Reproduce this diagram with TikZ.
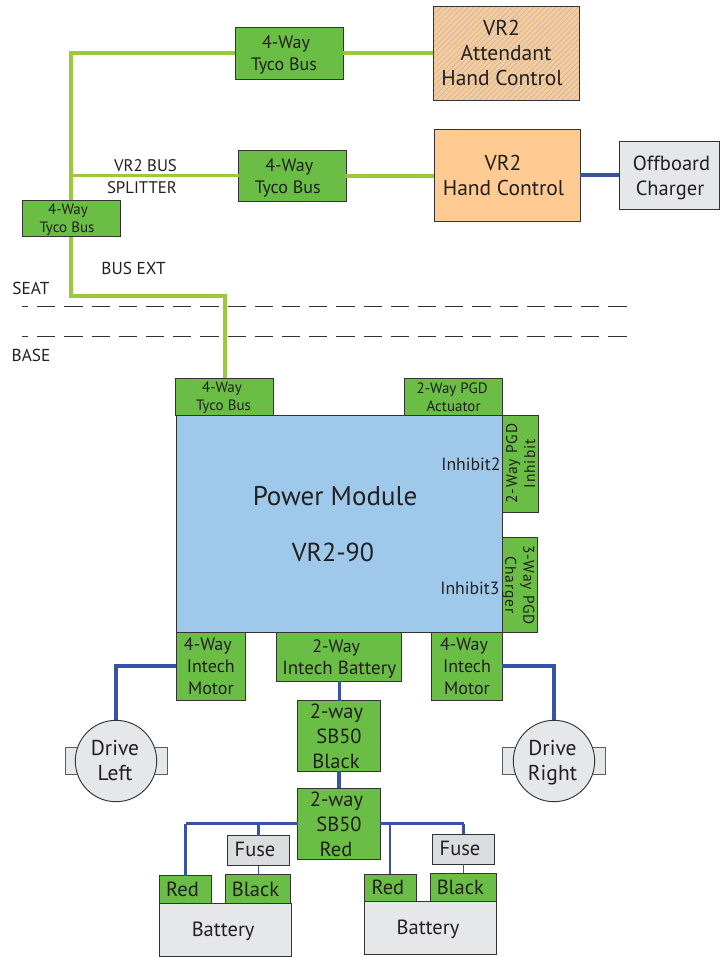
\documentclass[tikz,border=0pt]{standalone}
\usepackage{fontspec}
\setmainfont{PT Sans}
\usetikzlibrary{patterns.meta}
\definecolor{boxgreen}{HTML}{6ABD45}
\definecolor{wiregreen}{HTML}{9ACA3C}
\definecolor{wireblue}{HTML}{3953A4}
\definecolor{pmblue}{HTML}{9FC9EB}
\definecolor{peach}{HTML}{FFCB92}
\definecolor{lightgray}{HTML}{E6E7E8}
\definecolor{fusegray}{HTML}{DCDDDE}
\definecolor{ink}{HTML}{231F20}
\definecolor{edge}{HTML}{333333}
\definecolor{hatch}{HTML}{B4BCC4}
\newlength{\pxu}\setlength{\pxu}{0.75pt}
\newcommand{\fz}[2]{\fontsize{#1\pxu}{#2\pxu}\selectfont}
\newcommand{\rs}[1]{\hspace*{#1\pxu}}
\newcommand{\spaced}[1]{{\addfontfeature{LetterSpace=6}#1}}
\newcommand{\bx}[8][]{\node[box,#7,#1,minimum width={(#5-#3)*0.75pt},minimum height={(#6-#4)*0.75pt}] (#2) at ({(#3+#5)/2},{(#4+#6)/2}) {#8};}
\tikzset{
  box/.style={draw=edge,line width=0.7pt,inner sep=0pt,outer sep=0pt,align=center,text=ink,text depth=-2*\pxu},
  green/.style={fill=boxgreen},
  gbig/.style={green,font=\fz{18}{22}},
  gsmall/.style={green,font=\fz{15}{18}},
  gsb/.style={green,font=\fz{20.5}{25},text depth=0pt},
  gbat/.style={green,font=\fz{20.5}{25},text depth=0pt},
  grey/.style={fill=lightgray,font=\fz{20.5}{25}},
  hand/.style={fill=peach,font=\fz{21.5}{25}},
  lbl/.style={inner sep=0pt,outer sep=0pt,text=ink,align=center},
  bus/.style={draw=wiregreen,line width=3pt},
  busthin/.style={draw=wiregreen,line width=2.4pt},
  pow/.style={draw=wireblue,line width=3pt},
  powmid/.style={draw=wireblue,line width=2.4pt},
  powthin/.style={draw=wireblue,line width=1.6pt},
  powfine/.style={draw=wireblue,line width=0.9pt},
  zone/.style={draw=edge,line width=0.7pt,dash pattern=on 13.6pt off 6.8pt,dash phase=9pt},
}
\begin{document}
\begin{tikzpicture}[x=0.75pt,y=-0.75pt]
\useasboundingbox (0,0) rectangle (719,957);
% zone lines
\coordinate (seatL) at (22,306); \coordinate (seatR) at (627,306);
\coordinate (baseL) at (22,336.5); \coordinate (baseR) at (627,336.5);
\draw[zone] (seatL) -- (seatR);
\draw[zone] (baseL) -- (baseR);
% boxes
\bx{tA}{235}{27}{343}{79}{gbig}{4-Way\rs{6}\\Tyco Bus\rs{10}}
\bx{tB}{238.5}{150.5}{346}{201}{gbig,text depth=0pt}{4-Way\rs{6}\\Tyco Bus\rs{9}}
\bx{tC}{22}{200}{120}{236.5}{gsmall}{4-Way\rs{6}\\Tyco Bus\rs{8}}
\bx{attend}{433}{6}{579}{100}{hand,fill=none,text depth=0pt,preaction={fill=peach},preaction={pattern={Lines[angle=45,distance=2.9pt,line width=0.6pt]},pattern color=hatch}}{VR2\rs{9}\\Attendant\rs{2}\\Hand Control\rs{8}}
\bx{hand}{434}{129.5}{580}{221}{hand}{VR2\rs{8}\\Hand Control\rs{7}}
\bx{charger}{619}{141}{719}{209.5}{grey,text depth=0pt}{\hspace*{5\pxu}Offboard\\\hspace*{2\pxu}Charger}
\bx{pm}{176}{415}{502}{632.5}{fill=pmblue,text depth=0pt}{\fz{27}{32}Power Module\rs{8}\\[36\pxu]\fz{26}{32}VR2-90\rs{12}}
\bx{tD}{175.5}{378}{273.5}{415}{gsmall}{4-Way\rs{5}\\Tyco Bus\rs{2}}
\bx{act}{404.7}{378.5}{502.5}{415}{gsmall}{2-Way PGD\rs{3}\\Actuator}
\node[box,green,font=\fz{15.5}{18},text depth=0pt,rotate=90,minimum width=97.5*0.75pt,minimum height=36*0.75pt] (inh) at (520.5,463.75) {\spaced{2-Way PGD}\\\spaced{Inhibit}};
\node[box,green,font=\fz{15.5}{18},text depth=0pt,rotate=-90,minimum width=95*0.75pt,minimum height=35*0.75pt] (chg) at (520,585) {\spaced{3-Way PGD}\\\spaced{Charger}};
\bx{mL}{176}{632.5}{245.7}{700}{gbig}{4-Way\rs{6}\\Intech\rs{2}\\Motor}
\bx{ib}{276.7}{632.5}{401.7}{681}{gbig}{2-Way\rs{6}\\{\fz{19}{22}Intech Battery}}
\bx{mR}{431.7}{632.5}{502.3}{700}{gbig}{4-Way\rs{6}\\Intech\rs{2}\\Motor}
\bx{sbK}{297.7}{700.5}{380.3}{771}{gsb}{2-way\rs{5}\\SB50\rs{7}\\Black\rs{6}}
\bx{sbR}{297.7}{788}{380.3}{859.5}{gsb}{2-way\rs{5}\\SB50\rs{7}\\Red\rs{6}}
% drives
\bx{tabL}{65}{747.3}{167}{774.7}{fill=lightgray,draw=edge!80!white}{}
\bx{tabR}{502.7}{747.3}{605.3}{774.7}{fill=lightgray,draw=edge!80!white}{}
\node[box,circle,fill=lightgray,font=\fz{21.5}{25},text depth=2*\pxu,minimum size=81.4*0.75pt] (dL) at (116,761) {Drive\rs{2}\\Left\rs{2}};
\node[box,circle,fill=lightgray,font=\fz{21.5}{25},text depth=2*\pxu,minimum size=81.4*0.75pt] (dR) at (554,761) {Drive\rs{3}\\Right\rs{3}};
% batteries
\bx{fA}{227.3}{835.7}{289.7}{865.7}{grey,fill=fusegray,text depth=2*\pxu}{Fuse\rs{7}}
\bx{fB}{432.3}{834.3}{494.7}{864}{grey,fill=fusegray,text depth=2*\pxu}{Fuse\rs{7}}
\bx{rA}{159.3}{875.7}{211.7}{903}{gbat}{Red\rs{6}}
\bx{kA}{225.3}{874.5}{290.7}{903}{gbat}{Black\rs{5}}
\bx{batA}{159.3}{903}{291}{956}{grey}{Battery\rs{4}}
\bx{rB}{364}{874}{416.7}{901}{gbat}{Red\rs{5}}
\bx{kB}{430.7}{873}{496}{901}{gbat}{Black\rs{6}}
\bx{batB}{364}{901}{496}{954}{grey}{Battery\rs{4}}
% free labels
\node[lbl,align=right,font=\fz{16.8}{22}] (split) at (142,177) {VR2 BUS\\SPLITTER};
\node[lbl,font=\fz{17.3}{18}] (busext) at (133.5,268) {BUS EXT};
\node[lbl,font=\fz{17.3}{18}] (seat) at (31,288) {SEAT};
\node[lbl,font=\fz{17.3}{18}] (base) at (31,355) {BASE};
\node[lbl,font=\fz{17.7}{20}] (inhtwo) at (471,464) {Inhibit2};
\node[lbl,font=\fz{17.7}{20}] (inhthree) at (470,588) {Inhibit3};
% bus wires
\coordinate (busdrop) at (150,296);
\draw[bus] (tA.west) -| (tC.north);
\draw[busthin] (tB.west) -- (tB.west -| tC.north);
\draw[bus] (tC.south) |- (busdrop) -| (tD.north);
\draw[bus] (tA.east) -- (tA.east -| attend.west);
\draw[bus] (tB.east) -- (tB.east -| hand.west);
\draw[pow] (hand.east) -- (hand.east -| charger.west);
% power wires
\draw[pow] (mL.west) -| (dL.north);
\draw[pow] (mR.east) -| (dR.north);
\draw[powmid] (ib.south) -- (ib.south |- sbK.north);
\draw[powmid] (sbK.south) -- (sbK.south |- sbR.north);
\draw[powmid] (sbR.west) -- (sbR.west -| rA.north);
\draw[powthin] (rA.north |- sbR.west) -- (rA.north);
\draw[powthin] (fA.north |- sbR.west) -- (fA.north);
\draw[powfine] (fA.south) -- (fA.south |- kA.north);
\draw[powmid] (sbR.east) -- (sbR.east -| fB.north);
\draw[powthin] (rB.north |- sbR.east) -- (rB.north);
\draw[powthin] (fB.north |- sbR.east) -- (fB.north);
\draw[powfine] (fB.south) -- (fB.south |- kB.north);
\end{tikzpicture}
\end{document}
